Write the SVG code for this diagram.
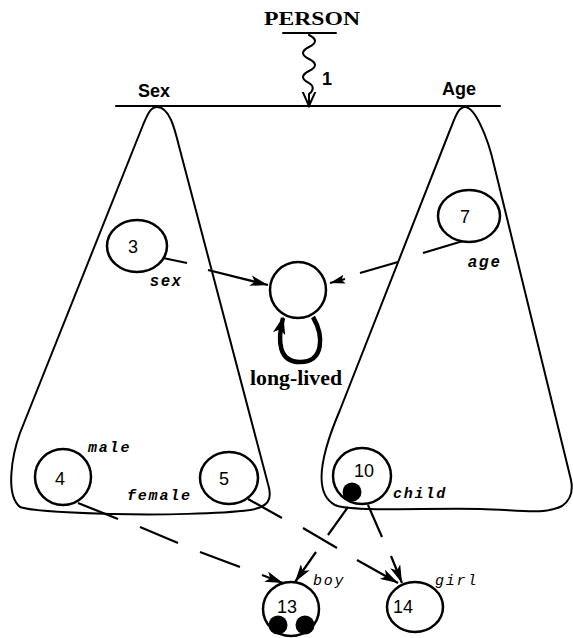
<svg xmlns="http://www.w3.org/2000/svg" width="573" height="638" viewBox="0 0 573 638">
<style>
.ln{fill:none;stroke:#000;stroke-width:2;stroke-linecap:round;stroke-linejoin:round}
.nd{fill:#fff;stroke:#000;stroke-width:2.5}
.cn{fill:none;stroke:#000;stroke-width:2.2;stroke-linecap:butt}
.dig{font-family:"Liberation Sans",Arial,sans-serif;font-size:18px;text-anchor:middle}
.mono{font-family:"Liberation Mono","Courier New",monospace;font-style:italic;font-size:15px;letter-spacing:1.8px}
.monob{font-family:"Liberation Mono","Courier New",monospace;font-style:italic;font-weight:bold;font-size:15px;letter-spacing:1.8px}
.sano{font-family:"Liberation Sans",Arial,sans-serif;font-style:italic;font-weight:bold;font-size:16px;letter-spacing:2px}
.hd{font-family:"Liberation Sans",Arial,sans-serif;font-weight:bold;font-size:18px}
.ser{font-family:"Liberation Serif","Times New Roman",serif;font-weight:bold}
</style>
<defs>
<marker id="ah" viewBox="0 0 20 12" markerWidth="18" markerHeight="11" markerUnits="userSpaceOnUse" refX="20" refY="6" orient="auto">
<path d="M0,0 L20,6 L0,12 L5,6 z" fill="#000"/>
</marker>
<marker id="ahs" viewBox="0 0 20 12" markerWidth="15" markerHeight="10" markerUnits="userSpaceOnUse" refX="20" refY="6" orient="auto">
<path d="M0,0 L20,6 L0,12 L4,6 z" fill="#000"/>
</marker>
<marker id="av" viewBox="0 0 20 20" markerWidth="16" markerHeight="16" markerUnits="userSpaceOnUse" refX="18" refY="10" orient="auto">
<path d="M0,2 L18,10 L0,18" fill="none" stroke="#000" stroke-width="2.5"/>
</marker>
<marker id="al" viewBox="0 0 20 14" markerWidth="18" markerHeight="14" markerUnits="userSpaceOnUse" refX="18" refY="7" orient="auto">
<path d="M0,0 L20,7 L0,14 L5,7 z" fill="#000"/>
</marker>
</defs>

<g id="person">
<text class="ser" x="312" y="25" font-size="18" text-anchor="middle" textLength="96" lengthAdjust="spacingAndGlyphs">PERSON</text>
<line class="ln" x1="283" y1="33" x2="336" y2="33"/>
</g>

<g id="bar">
<line class="ln" x1="116" y1="106" x2="500" y2="106"/>
<text class="hd" x="138" y="97">Sex</text>
<text class="hd" x="442" y="95">Age</text>
</g>

<g id="sex-cone">
<path class="ln" d="M157,107 C150,107 147,116 143,125 L20,433 C12,455 5,495 20,507 C32,512 80,513 113,514 C160,515 220,514 250,510 C268,507 273,500 268,484 L180,150 C175,130 170,107 157,107 Z"/>
</g>

<g id="age-cone">
<path class="ln" d="M465,107 C458,107 455,118 450,130 L340,410 C325,445 310,492 335,505 C350,512 420,508 480,509 C520,510 545,515 562,506 C571,500 573,490 571,480 L494,165 C488,138 475,107 465,107 Z"/>
</g>

<g id="connectors">
<path class="ln" d="M309,35 c8,4 8,8 0,12 c-8,4 -8,8 0,12 c8,4 8,8 0,12 c-8,4 -8,8 0,12 c5,3 5,7 0,11 L309,106" marker-end="url(#av)"/>
<path class="cn" d="M163,258 L187,263 M208,270 L268,285" marker-end="url(#ah)"/>
<path class="cn" d="M463,241 L423,253 M398,262 L360,273 M345,279 L330,283" marker-end="url(#ahs)"/>
<path d="M313,317 C324,336 324,362 300,362 C279,362 277,342 283,318" fill="none" stroke="#000" stroke-width="4.5" marker-end="url(#al)"/>
<path class="cn" d="M78,503 L118,519 M140,527 L178,543 M200,552 L240,567 M262,575 L283,583" marker-end="url(#ah)"/>
<path class="cn" d="M248,499 L282,518 M303,528 L337,548 M357,560 L398,583" marker-end="url(#ah)"/>
<path class="cn" d="M348,507 L328,535 M316,552 L295,582" marker-end="url(#ah)"/>
<path class="cn" d="M368,505 L382,537 M391,556 L402,583" marker-end="url(#ah)"/>
<text class="hd" x="327" y="85" font-size="13" text-anchor="middle">1</text>
</g>

<g id="node-3">
<ellipse class="nd" cx="137" cy="246" rx="30" ry="26"/>
<text class="dig" x="133" y="253">3</text>
<text class="sano" x="150" y="286">sex</text>
</g>

<g id="node-long-lived">
<circle class="nd" cx="298" cy="290" r="28"/>
<text class="ser" x="296" y="385" font-size="20" text-anchor="middle" textLength="92" lengthAdjust="spacingAndGlyphs">long-lived</text>
</g>

<g id="node-7">
<ellipse class="nd" cx="469" cy="216" rx="31" ry="26"/>
<text class="dig" x="465" y="223">7</text>
<text class="sano" x="468" y="267">age</text>
</g>

<g id="node-4">
<circle class="nd" cx="63" cy="477" r="28"/>
<text class="dig" x="60" y="485">4</text>
<text class="monob" x="88" y="452">male</text>
</g>

<g id="node-5">
<ellipse class="nd" cx="229" cy="478" rx="29" ry="26"/>
<text class="dig" x="224" y="485">5</text>
<text class="monob" x="127" y="500">female</text>
</g>

<g id="node-10">
<ellipse class="nd" cx="362" cy="476" rx="29" ry="28"/>
<text class="dig" x="364" y="477">10</text>
<circle cx="352" cy="492" r="9.5" fill="#000"/>
<text class="monob" x="393" y="498">child</text>
</g>

<g id="node-13">
<ellipse class="nd" cx="291" cy="609" rx="28" ry="27"/>
<text class="dig" x="287" y="613">13</text>
<circle cx="278" cy="625" r="9.5" fill="#000"/>
<circle cx="305" cy="625" r="9.5" fill="#000"/>
<text class="mono" x="313" y="585">boy</text>
</g>

<g id="node-14">
<ellipse class="nd" cx="415" cy="607" rx="28" ry="25"/>
<text class="dig" x="403" y="613">14</text>
<text class="mono" x="435" y="585">girl</text>
</g>
</svg>
